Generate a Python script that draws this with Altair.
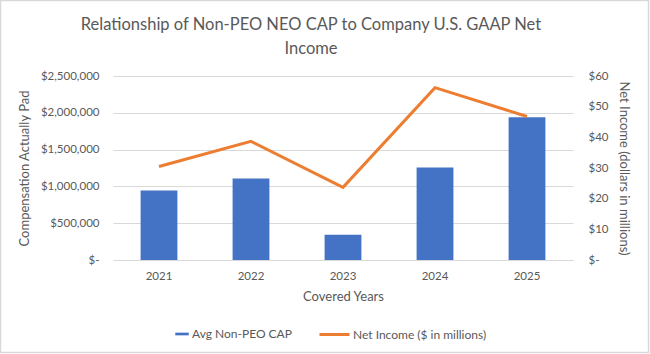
import altair as alt
import pandas as pd

years = ["2021", "2022", "2023", "2024", "2025"]
avg_cap = [945000, 1107000, 344000, 1257000, 1938000]
net_income = [30.5, 38.7, 23.7, 56.2, 46.8]

bar_name = "Avg Non-PEO CAP"
line_name = "Net Income ($ in millions)"

df = pd.DataFrame({
    "year": years,
    "cap": avg_cap,
    "ni": net_income,
    "bar_series": [bar_name] * len(years),
    "line_series": [line_name] * len(years),
})

FONT = "Lato"
GRAY = "#595959"

x = alt.X("year:N", title="Covered Years",
          scale=alt.Scale(paddingInner=0.6, paddingOuter=0.3),
          axis=alt.Axis(labelAngle=0, ticks=False, domainColor="#d9d9d9",
                        labelPadding=10, titlePadding=9, grid=False))

bars = alt.Chart(df).mark_bar(color="#4472C4").encode(
    x=x,
    y=alt.Y("cap:Q", title="Compensation Actually Pad",
            scale=alt.Scale(domain=[0, 2500000]),
            axis=alt.Axis(values=[0, 500000, 1000000, 1500000, 2000000, 2500000],
                          labelExpr="datum.value == 0 ? '$-\u00a0\u00a0' : '$' + format(datum.value, ',.0f')",
                          domain=False, ticks=False, gridColor="#d9d9d9",
                          labelPadding=14, titlePadding=9)),
    fill=alt.Fill("bar_series:N",
                  scale=alt.Scale(domain=[bar_name], range=["#4472C4"]),
                  legend=alt.Legend(title=None, orient="none", legendX=62, legendY=251,
                                    symbolType="M-1,-0.2H1V0.2H-1Z", symbolSize=182,
                                    symbolStrokeWidth=0, padding=0, labelOffset=3)),
)

line = alt.Chart(df).mark_line(strokeWidth=3).encode(
    x=x,
    y=alt.Y("ni:Q", title="Net Income (dollars in millions)",
            scale=alt.Scale(domain=[0, 60]),
            axis=alt.Axis(orient="right", values=[0, 10, 20, 30, 40, 50, 60],
                          labelExpr="datum.value == 0 ? '$-' : '$' + datum.value",
                          domain=False, ticks=False, grid=False,
                          labelPadding=15, titlePadding=8)),
    stroke=alt.Stroke("line_series:N",
                      scale=alt.Scale(domain=[line_name], range=["#ED7D31"]),
                      legend=alt.Legend(title=None, orient="none", legendX=205, legendY=242,
                                        symbolType="stroke", symbolSize=900,
                                        symbolStrokeWidth=3, padding=0, labelOffset=2)),
)

frame = alt.Chart(pd.DataFrame({"f": [0]})).mark_rect(
    fill=None, stroke="#d9d9d9", strokeWidth=1.5, clip=False
).encode(
    x=alt.value(-112.5), x2=alt.value(535.5),
    y=alt.value(-75.5), y2=alt.value(276.5),
)

chart = alt.layer(frame, bars, line).resolve_scale(
    y="independent", fill="independent", stroke="independent"
).properties(
    width=460,
    height=184,
    background="white",
    autosize=alt.AutoSizeParams(type="none"),
    padding={"left": 113, "top": 76, "right": 77, "bottom": 94},
    title=alt.TitleParams(
        ["Relationship of Non-PEO NEO CAP to Company U.S. GAAP Net", "Income"],
        anchor="middle", dx=-32, dy=70, offset=12, fontSize=16.5, font=FONT,
        fontWeight="normal", color=GRAY, lineHeight=24,
    ),
).configure_view(stroke=None).configure_axis(
    labelFont=FONT, titleFont=FONT, labelColor=GRAY, titleColor=GRAY,
    labelFontSize=11.5, titleFontSize=13, titleFontWeight="normal",
).configure_legend(
    labelFont=FONT, labelColor=GRAY, labelFontSize=12,
)

chart.save("out.html", embed_options={"renderer": "svg", "actions": False})
